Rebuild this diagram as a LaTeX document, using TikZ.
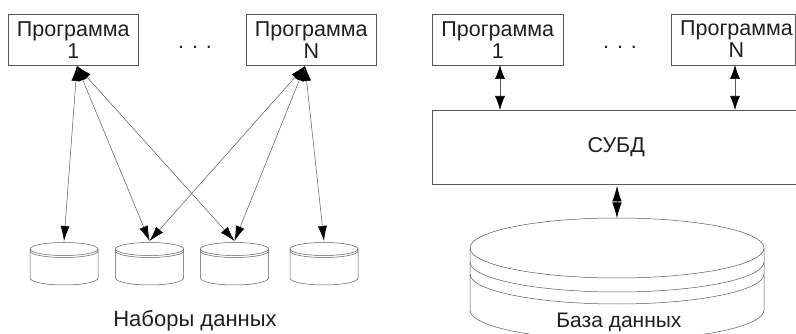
\documentclass[tikz,border=0pt]{standalone}
\usepackage{fontspec}
\setmainfont{Liberation Sans}
\usetikzlibrary{arrows.meta}
\definecolor{ink}{gray}{0.12}
\definecolor{lin}{gray}{0.35}
\tikzset{
  boxtext/.style={font=\fontsize{21.5}{22}\selectfont},
  prog/.style={draw=lin, line width=0.6pt, minimum width=130pt, minimum height=51pt,
    inner sep=0pt, align=center, anchor=north west, text=ink, boxtext},
  lbl/.style={text=ink, inner sep=0pt, anchor=base},
  cyl/.style={draw=lin, line width=0.5pt},
  tip/.tip={Latex[length=15pt,width=9pt,color=black]},
  btip/.tip={Latex[length=14pt,width=10pt,color=black]},
  dtip/.tip={Latex[length=15.5pt,width=9.5pt,color=black]},
  link/.style={draw=lin, line width=0.5pt, tip-tip},
  blink/.style={draw=lin, line width=0.6pt, btip-btip},
  dlink/.style={draw=lin, line width=0.6pt, dtip-dtip},
  dataset/.pic={
    \draw[cyl] (0,0) ellipse [x radius=34pt, y radius=6.5pt];
    \draw[cyl] (-34,2) arc[start angle=180, end angle=360, x radius=34pt, y radius=6.5pt];
    \draw[cyl] (-34,0) -- (-34,29) arc[start angle=180, end angle=360, x radius=34pt, y radius=7pt] -- (34,0);
    \coordinate (-top) at (0,-8);
  }
}
\begin{document}
\begin{tikzpicture}[x=1pt,y=-1pt]
\useasboundingbox (0,0) rectangle (796,334);
\clip (0,0) rectangle (796,334);
% ---------- left part ----------
\node[prog] (p1) at (8,14) {Программа\\1};
\node[prog] (pN) at (246,14) {Программа\\N};
\node[lbl, boxtext] (d1) at (195,49) {. . .};
\pic (c1) at (64,249) {dataset};
\pic (c2) at (149.5,249) {dataset};
\pic (c3) at (234.5,249) {dataset};
\pic (c4) at (324,249) {dataset};
\coordinate (p1s) at (77,66);
\coordinate (pNs) at (305,66);
\draw[link] (p1s) -- (c1-top);
\draw[link] (p1s) -- (c2-top);
\draw[link] (p1s) -- (c3-top);
\draw[link] (pNs) -- (c2-top);
\draw[link] (pNs) -- (c3-top);
\draw[link] (pNs) -- (c4-top);
\node[lbl, font=\fontsize{22}{24}\selectfont] (sets) at (195,326) {Наборы данных};
% ---------- right part ----------
\node[prog, minimum width=131pt] (r1) at (432,14) {Программа\\1};
\node[prog, minimum width=124pt] (rN) at (671,14) {};
\node[text=ink, boxtext, align=center, inner sep=0pt] (rNt) at (736.5,39.5) {Программа\\N};
\node[lbl, boxtext] (d2) at (620,49) {. . .};
\node[prog, minimum width=368pt, minimum height=74pt] (dbms) at (432,110) {СУБД};
\coordinate (r1s) at (500,65);
\coordinate (r1e) at (500,110);
\coordinate (rNs) at (735,65);
\coordinate (rNe) at (735,110);
\draw[blink] (r1s) -- (r1e);
\draw[blink] (rNs) -- (rNe);
% database
\draw[cyl] (617,248) ellipse [x radius=147pt, y radius=30pt];
\draw[cyl] (470,262) arc[start angle=180, end angle=360, x radius=147pt, y radius=30pt];
\draw[cyl] (470,274) arc[start angle=180, end angle=360, x radius=147pt, y radius=30pt];
\draw[cyl] (470,248) -- (470,310) arc[start angle=180, end angle=360, x radius=147pt, y radius=30pt] -- (764,248);
\coordinate (dbt) at (617,218);
\coordinate (dbb) at (617,186);
\draw[dlink] (dbb) -- (dbt);
\node[lbl, font=\fontsize{21}{23}\selectfont, fill=white, inner sep=1pt] (db) at (619,327) {База данных};
\end{tikzpicture}
\end{document}
